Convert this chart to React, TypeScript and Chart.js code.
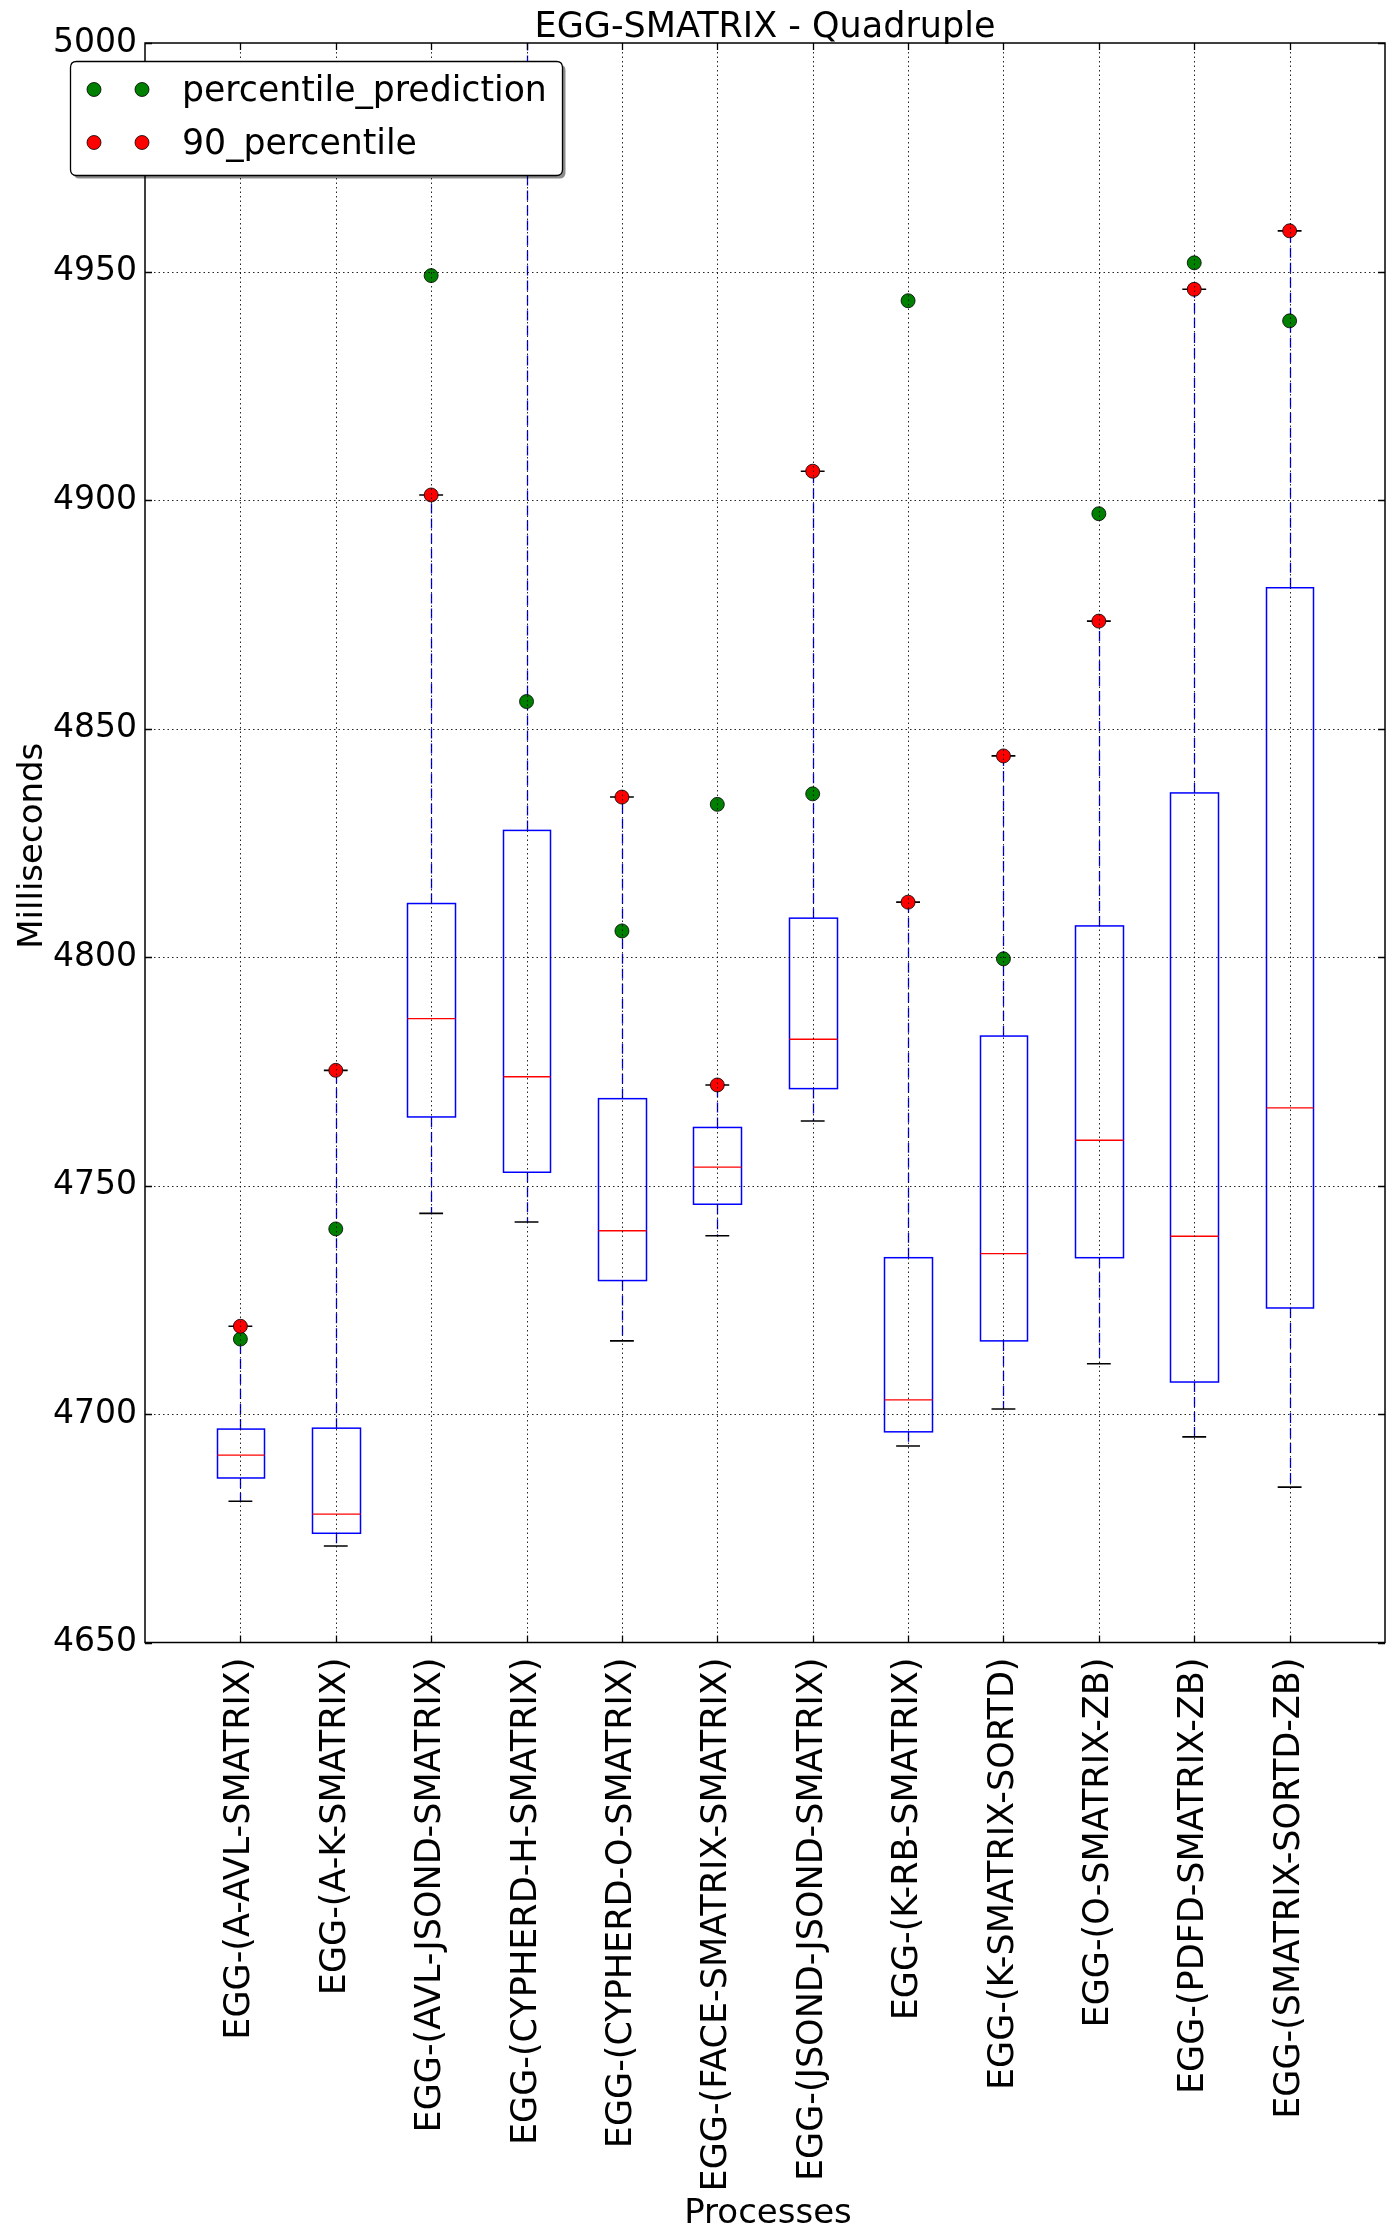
import React, { useEffect, useRef } from 'react';
import { Chart, registerables } from 'chart.js';

Chart.register(...registerables);

const categories = [
  'EGG-(A-AVL-SMATRIX)',
  'EGG-(A-K-SMATRIX)',
  'EGG-(AVL-JSOND-SMATRIX)',
  'EGG-(CYPHERD-H-SMATRIX)',
  'EGG-(CYPHERD-O-SMATRIX)',
  'EGG-(FACE-SMATRIX-SMATRIX)',
  'EGG-(JSOND-JSOND-SMATRIX)',
  'EGG-(K-RB-SMATRIX)',
  'EGG-(K-SMATRIX-SORTD)',
  'EGG-(O-SMATRIX-ZB)',
  'EGG-(PDFD-SMATRIX-ZB)',
  'EGG-(SMATRIX-SORTD-ZB)',
];

const whiskerLow = [4680.9, 4671.1, 4743.9, 4742.0, 4716.0, 4739.0, 4764.1, 4693.0, 4701.1, 4711.0, 4695.0, 4684.0];
const q1 = [4686.0, 4673.9, 4765.0, 4752.9, 4729.2, 4745.9, 4771.2, 4696.1, 4716.0, 4734.2, 4707.0, 4723.2];
const median = [4691.0, 4678.1, 4786.5, 4773.8, 4740.1, 4754.0, 4782.0, 4703.1, 4735.1, 4759.9, 4738.9, 4767.0];
const q3 = [4696.7, 4696.9, 4811.7, 4827.7, 4769.0, 4762.7, 4808.5, 4734.2, 4782.7, 4806.8, 4835.9, 4880.8];
const whiskerHigh = [4719.2, 4775.2, 4901.1, 5030.0, 4835.0, 4772.0, 4906.3, 4812.0, 4844.0, 4873.5, 4946.1, 4958.9];

const percentilePrediction = [4716.4, 4740.5, 4949.1, 4855.9, 4805.7, 4833.4, 4835.7, 4943.6, 4799.6, 4897.0, 4951.9, 4939.2];
const percentile90 = [4719.2, 4775.2, 4901.1, 5030.0, 4835.0, 4772.0, 4906.3, 4812.0, 4844.0, 4873.5, 4946.1, 4958.9];

const yMin = 4650;
const yMax = 5000;
const yStep = 50;

const titleText = 'EGG-SMATRIX - Quadruple';
const xTitle = 'Processes';
const yTitle = 'Milliseconds';
const legendLabels = ['percentile_prediction', '90_percentile'];

const FONT = '"DejaVu Sans", "Liberation Sans", sans-serif';
const GREEN = '#008000';
const RED = '#ff0000';
const BLUE = '#0000ff';

const boxPlugin = {
  id: 'mplBoxes',
  beforeDatasetsDraw(chart: any) {
    const { ctx, chartArea, scales } = chart;
    const x = scales.x;
    const y = scales.y;
    ctx.save();
    ctx.beginPath();
    ctx.rect(chartArea.left, chartArea.top, chartArea.right - chartArea.left, chartArea.bottom - chartArea.top);
    ctx.clip();
    const line = (x1: number, y1: number, x2: number, y2: number) => {
      ctx.beginPath();
      ctx.moveTo(x1, y1);
      ctx.lineTo(x2, y2);
      ctx.stroke();
    };
    categories.forEach((_, i) => {
      const pos = i + 1;
      const xc = Math.round(x.getPixelForValue(pos)) + 0.5;
      const xl = Math.round(x.getPixelForValue(pos - 0.25)) + 0.5;
      const xr = Math.round(x.getPixelForValue(pos + 0.25)) + 0.5;
      const cl = x.getPixelForValue(pos - 0.125);
      const cr = x.getPixelForValue(pos + 0.125);
      const yLo = y.getPixelForValue(whiskerLow[i]);
      const yQ1 = y.getPixelForValue(q1[i]);
      const yMed = y.getPixelForValue(median[i]);
      const yQ3 = y.getPixelForValue(q3[i]);
      const yHi = y.getPixelForValue(whiskerHigh[i]);

      ctx.lineWidth = 1.3;
      ctx.strokeStyle = BLUE;
      ctx.setLineDash([10, 5]);
      line(xc, yQ1, xc, yLo);
      line(xc, yQ3, xc, yHi);
      ctx.setLineDash([]);

      ctx.strokeStyle = '#000';
      ctx.lineWidth = 1.6;
      line(cl, yLo, cr, yLo);
      line(cl, yHi, cr, yHi);

      ctx.strokeStyle = BLUE;
      ctx.lineWidth = 1.5;
      ctx.strokeRect(xl, yQ3, xr - xl, yQ1 - yQ3);

      ctx.strokeStyle = RED;
      ctx.lineWidth = 1.3;
      line(xl, yMed, xr, yMed);
    });
    ctx.restore();
  },
};

const gridFramePlugin = {
  id: 'mplGridFrame',
  afterDatasetsDraw(chart: any) {
    const { ctx, chartArea, scales } = chart;
    const x = scales.x;
    const y = scales.y;
    const { left, right, top, bottom } = chartArea;
    ctx.save();
    ctx.strokeStyle = 'rgba(0,0,0,0.85)';
    ctx.lineWidth = 1;
    ctx.setLineDash([1.5, 3]);
    categories.forEach((_, i) => {
      const px = Math.round(x.getPixelForValue(i + 1)) + 0.5;
      ctx.beginPath();
      ctx.moveTo(px, top);
      ctx.lineTo(px, bottom);
      ctx.stroke();
    });
    for (let v = yMin + yStep; v < yMax; v += yStep) {
      const py = Math.round(y.getPixelForValue(v)) + 0.5;
      ctx.beginPath();
      ctx.moveTo(left, py);
      ctx.lineTo(right, py);
      ctx.stroke();
    }
    ctx.setLineDash([]);
    ctx.strokeStyle = '#000';
    ctx.lineWidth = 1.3;
    const tl = 7;
    categories.forEach((_, i) => {
      const px = Math.round(x.getPixelForValue(i + 1)) + 0.5;
      ctx.beginPath();
      ctx.moveTo(px, bottom);
      ctx.lineTo(px, bottom - tl);
      ctx.moveTo(px, top);
      ctx.lineTo(px, top + tl);
      ctx.stroke();
    });
    for (let v = yMin; v <= yMax; v += yStep) {
      const py = Math.round(y.getPixelForValue(v)) + 0.5;
      ctx.beginPath();
      ctx.moveTo(left, py);
      ctx.lineTo(left + tl, py);
      ctx.moveTo(right, py);
      ctx.lineTo(right - tl, py);
      ctx.stroke();
    }
    ctx.lineWidth = 1.5;
    ctx.strokeRect(left, top, right - left, bottom - top);
    ctx.restore();
  },
};

const textPlugin = {
  id: 'mplText',
  afterDraw(chart: any) {
    const { ctx, chartArea } = chart;
    const cx = (chartArea.left + chartArea.right) / 2;
    const cy = (chartArea.top + chartArea.bottom) / 2;
    ctx.save();
    ctx.fillStyle = '#000';
    ctx.font = `35px ${FONT}`;
    ctx.textAlign = 'center';
    ctx.textBaseline = 'alphabetic';
    ctx.fillText(titleText, cx, 37);

    ctx.font = `34px ${FONT}`;
    ctx.fillText(xTitle, cx + 3, 2223);

    ctx.save();
    ctx.translate(42, cy + 3);
    ctx.rotate(-Math.PI / 2);
    ctx.fillText(yTitle, 0, 0);
    ctx.restore();

    // legend
    const lx = 70.5;
    const ly = 61.5;
    const lw = 492;
    const lh = 114;
    const r = 6;
    const rr = (ox: number, oy: number) => {
      ctx.beginPath();
      ctx.moveTo(ox + r, oy);
      ctx.lineTo(ox + lw - r, oy);
      ctx.quadraticCurveTo(ox + lw, oy, ox + lw, oy + r);
      ctx.lineTo(ox + lw, oy + lh - r);
      ctx.quadraticCurveTo(ox + lw, oy + lh, ox + lw - r, oy + lh);
      ctx.lineTo(ox + r, oy + lh);
      ctx.quadraticCurveTo(ox, oy + lh, ox, oy + lh - r);
      ctx.lineTo(ox, oy + r);
      ctx.quadraticCurveTo(ox, oy, ox + r, oy);
      ctx.closePath();
    };
    rr(lx + 3, ly + 3);
    ctx.fillStyle = 'rgba(0,0,0,0.45)';
    ctx.fill();
    rr(lx, ly);
    ctx.fillStyle = '#fff';
    ctx.fill();
    ctx.strokeStyle = '#000';
    ctx.lineWidth = 1.3;
    ctx.stroke();

    const rows = [89.5, 142.5];
    const colors = [GREEN, RED];
    ctx.font = `34.7px ${FONT}`;
    ctx.textAlign = 'left';
    ctx.textBaseline = 'middle';
    legendLabels.forEach((label, i) => {
      [94, 142].forEach((mx) => {
        ctx.beginPath();
        ctx.arc(mx, rows[i], 7, 0, Math.PI * 2);
        ctx.fillStyle = colors[i];
        ctx.fill();
        ctx.strokeStyle = '#000';
        ctx.lineWidth = 0.8;
        ctx.stroke();
      });
      ctx.fillStyle = '#000';
      ctx.fillText(label, 182, rows[i] + 2);
    });
    ctx.restore();
  },
};

export default function App() {
  const canvasRef = useRef<HTMLCanvasElement | null>(null);

  useEffect(() => {
    const canvas = canvasRef.current;
    if (!canvas) return;
    const chart = new Chart(canvas, {
      type: 'scatter',
      data: {
        datasets: [
          {
            label: legendLabels[0],
            data: percentilePrediction.map((v, i) => ({ x: i + 1, y: v })),
            pointRadius: 7,
            pointHoverRadius: 7,
            pointBackgroundColor: GREEN,
            pointBorderColor: '#000',
            pointBorderWidth: 0.8,
            order: 2,
            clip: 0,
          },
          {
            label: legendLabels[1],
            data: percentile90.map((v, i) => ({ x: i + 1, y: v })),
            pointRadius: 7,
            pointHoverRadius: 7,
            pointBackgroundColor: RED,
            pointBorderColor: '#000',
            pointBorderWidth: 0.8,
            order: 1,
            clip: 0,
          },
        ],
      },
      options: {
        responsive: false,
        animation: false,
        devicePixelRatio: 1,
        events: [],
        layout: { padding: { left: 0, right: 9, top: 43, bottom: 0 } },
        plugins: {
          legend: { display: false },
          title: { display: false },
          tooltip: { enabled: false },
        },
        scales: {
          x: {
            type: 'linear',
            min: 0,
            max: categories.length + 1,
            afterBuildTicks: (s: any) => {
              s.ticks = categories.map((_, i) => ({ value: i + 1 }));
            },
            afterFit: (s: any) => {
              s.height = 2240 - 43 - 1599.5;
            },
            ticks: {
              autoSkip: false,
              minRotation: 90,
              maxRotation: 90,
              padding: 15,
              color: '#000',
              font: { family: FONT, size: 35 },
              callback: (v: any) => categories[Number(v) - 1] ?? '',
            },
            grid: { display: false, drawTicks: false },
            border: { display: false },
          },
          y: {
            type: 'linear',
            min: yMin,
            max: yMax,
            afterFit: (s: any) => {
              s.width = 145;
            },
            ticks: {
              stepSize: yStep,
              padding: 8,
              color: '#000',
              font: { family: FONT, size: 33 },
              callback: (v: any) => String(Math.round(Number(v))),
            },
            grid: { display: false, drawTicks: false },
            border: { display: false },
          },
        },
      },
      plugins: [boxPlugin, gridFramePlugin, textPlugin],
    });
    return () => chart.destroy();
  }, []);

  return (
    <div style={{ position: 'absolute', left: 0, top: 0, width: 1394, height: 2240, background: '#fff' }}>
      <canvas ref={canvasRef} width={1394} height={2240} style={{ width: 1394, height: 2240, display: 'block' }} />
    </div>
  );
}
